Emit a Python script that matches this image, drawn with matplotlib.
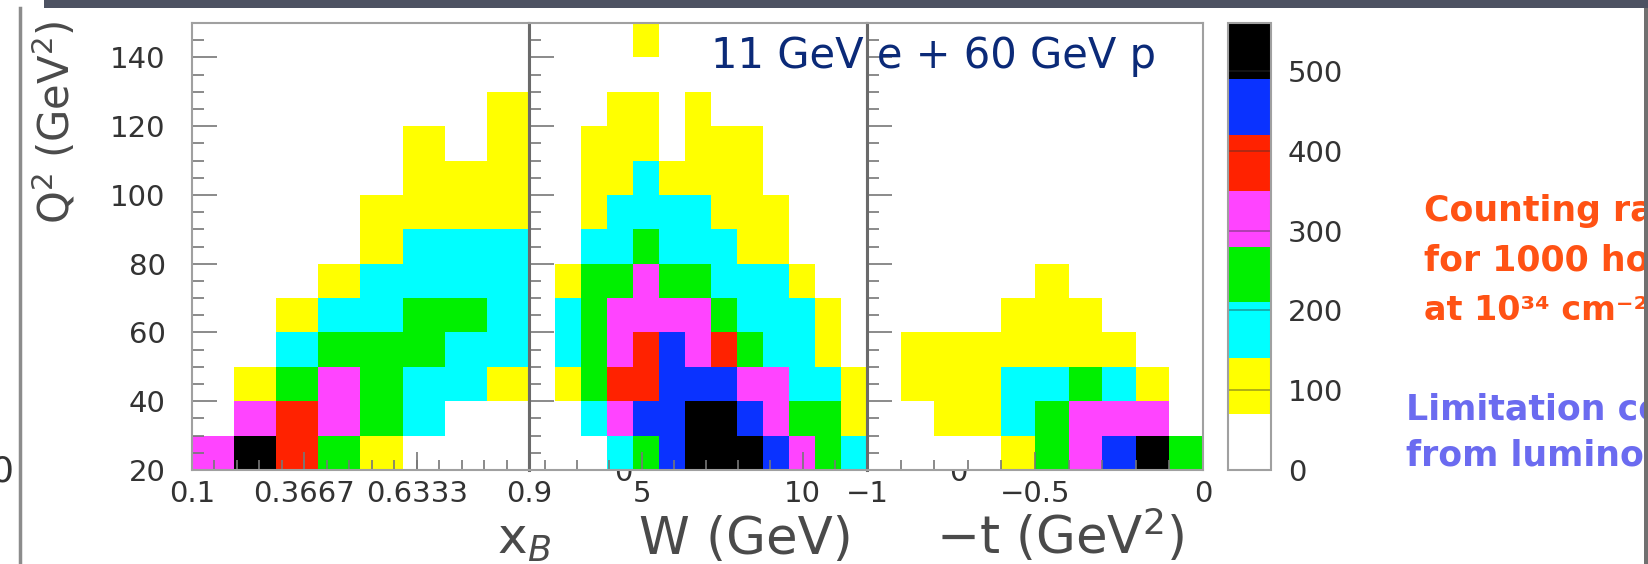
import numpy as np
import matplotlib
matplotlib.use("Agg")
import matplotlib.pyplot as plt
from matplotlib.colors import ListedColormap, BoundaryNorm
from matplotlib.ticker import FixedLocator, MultipleLocator
from matplotlib.patches import Rectangle
from matplotlib.lines import Line2D

W_PX, H_PX = 1649, 564

# bin edges
q2_edges = np.arange(20, 151, 10)
xb_edges = np.linspace(0.1, 0.9, 9)
w_edges = np.linspace(1.5, 12.0, 14)
t_edges = np.linspace(-1.0, 0.0, 11)

# counts per bin, first row = Q2 20-30, last row = Q2 140-150
counts_xb = [
    [310, 520, 380, 240, 100, 0, 0, 0],
    [0, 310, 380, 310, 240, 170, 0, 0],
    [0, 100, 240, 310, 240, 170, 170, 100],
    [0, 0, 170, 240, 240, 240, 170, 170],
    [0, 0, 100, 170, 170, 240, 240, 170],
    [0, 0, 0, 100, 170, 170, 170, 170],
    [0, 0, 0, 0, 100, 170, 170, 170],
    [0, 0, 0, 0, 100, 100, 100, 100],
    [0, 0, 0, 0, 0, 100, 100, 100],
    [0, 0, 0, 0, 0, 100, 0, 100],
    [0, 0, 0, 0, 0, 0, 0, 100],
    [0, 0, 0, 0, 0, 0, 0, 0],
    [0, 0, 0, 0, 0, 0, 0, 0],
]
counts_w = [
    [0, 0, 0, 170, 240, 450, 520, 520, 520, 450, 310, 240, 170],
    [0, 0, 170, 310, 450, 450, 520, 520, 450, 310, 240, 240, 100],
    [0, 100, 240, 380, 380, 450, 450, 450, 310, 310, 170, 170, 100],
    [0, 170, 240, 310, 380, 450, 310, 380, 240, 170, 170, 100, 0],
    [0, 170, 240, 310, 310, 310, 310, 240, 170, 170, 170, 100, 0],
    [0, 100, 240, 240, 310, 240, 240, 170, 170, 170, 100, 0, 0],
    [0, 0, 170, 170, 240, 170, 170, 170, 100, 100, 0, 0, 0],
    [0, 0, 100, 170, 170, 170, 170, 100, 100, 100, 0, 0, 0],
    [0, 0, 100, 100, 170, 100, 100, 100, 100, 0, 0, 0, 0],
    [0, 0, 100, 100, 100, 0, 100, 100, 100, 0, 0, 0, 0],
    [0, 0, 0, 100, 100, 0, 100, 0, 0, 0, 0, 0, 0],
    [0, 0, 0, 0, 0, 0, 0, 0, 0, 0, 0, 0, 0],
    [0, 0, 0, 0, 100, 0, 0, 0, 0, 0, 0, 0, 0],
]
counts_t = [
    [0, 0, 0, 0, 100, 240, 310, 450, 520, 240],
    [0, 0, 100, 100, 170, 240, 310, 310, 310, 0],
    [0, 100, 100, 100, 170, 170, 240, 170, 100, 0],
    [0, 100, 100, 100, 100, 100, 100, 100, 0, 0],
    [0, 0, 0, 0, 100, 100, 100, 0, 0, 0],
    [0, 0, 0, 0, 0, 100, 0, 0, 0, 0],
    [0] * 10, [0] * 10, [0] * 10, [0] * 10, [0] * 10, [0] * 10, [0] * 10,
]

level_colors = ["#ffffff", "#ffff00", "#00ffff", "#00f000",
                "#ff44ff", "#ff2200", "#0a32ff", "#000000"]
level_bounds = np.arange(0, 561, 70)
cbar_ticks = [0, 100, 200, 300, 400, 500]

cmap = ListedColormap(level_colors)
norm = BoundaryNorm(level_bounds, cmap.N)


def box(x0, y0, x1, y1):
    return [x0 / W_PX, 1 - y1 / H_PX, (x1 - x0) / W_PX, (y1 - y0) / H_PX]


def fx(x):
    return x / W_PX


def fy(y):
    return 1 - y / H_PX


fig = plt.figure(figsize=(W_PX / 100, H_PX / 100), dpi=100)
fig.patch.set_facecolor("white")

tick_col = "#333333"
panels = [
    (box(192, 23, 529, 470), xb_edges, counts_xb),
    (box(529, 23, 867, 470), w_edges, counts_w),
    (box(867, 23, 1203, 470), t_edges, counts_t),
]
axes = []
mesh = None
for i, (rect, xe, cnt) in enumerate(panels):
    ax = fig.add_axes(rect)
    z = np.ma.masked_equal(np.array(cnt, dtype=float), 0)
    mesh = ax.pcolormesh(xe, q2_edges, z, cmap=cmap, norm=norm)
    ax.set_xlim(xe[0], xe[-1])
    ax.set_ylim(20, 150)
    ax.yaxis.set_major_locator(FixedLocator(np.arange(20, 141, 20)))
    ax.yaxis.set_minor_locator(MultipleLocator(5))
    ax.tick_params(axis="y", which="major", direction="in", length=18, width=1.2,
                   color="#777777", labelsize=21, labelcolor=tick_col, pad=19)
    ax.tick_params(axis="y", which="minor", direction="in", length=8.5, width=1.2,
                   color="#777777")
    ax.tick_params(axis="x", which="major", direction="in", length=13, width=1.2,
                   color="#777777", labelsize=21, labelcolor=tick_col, pad=7)
    ax.tick_params(axis="x", which="minor", direction="in", length=7, width=1.2,
                   color="#777777")
    if i > 0:
        ax.tick_params(axis="y", labelleft=False)
    for s in ax.spines.values():
        s.set_color("#a0a0a0")
        s.set_linewidth(1.5)
    if i > 0:
        ax.spines["left"].set_color("#6a6a6a")
        ax.spines["left"].set_linewidth(2.2)
    axes.append(ax)

ax1, ax2, ax3 = axes
ax1.xaxis.set_major_locator(FixedLocator([0.1, 0.3667, 0.6333, 0.9]))
ax1.set_xticklabels(["0.1", "0.3667", "0.6333", "0.9"])
ax1.xaxis.set_minor_locator(FixedLocator(np.arange(0.1, 0.9, 0.8 / 15)))
ax2.xaxis.set_major_locator(FixedLocator([5, 10]))
ax2.set_xticklabels(["5", "10"])
ax2.xaxis.set_minor_locator(FixedLocator(np.arange(2, 12, 1)))
ax3.xaxis.set_major_locator(FixedLocator([-1, -0.5, 0]))
ax3.set_xticklabels(["\u22121", "\u22120.5", "0"])
ax3.xaxis.set_minor_locator(FixedLocator(np.arange(-0.9, 0, 0.1)))

# colour scale
cax = fig.add_axes(box(1228, 23, 1271, 470))
cb = fig.colorbar(mesh, cax=cax, ticks=cbar_ticks)
cb.outline.set_edgecolor("#a0a0a0")
cb.outline.set_linewidth(1.5)
cax.tick_params(direction="in", length=31, width=1.2, color=(0.2, 0.2, 0.2, 0.45),
                labelsize=21, labelcolor=tick_col, pad=12)
cax.minorticks_off()

# axis titles
lab_col = "#4a4a4a"
fig.text(fx(55), fy(122), "Q$^2$ (GeV$^2$)", rotation=90, ha="center", va="center",
         fontsize=30, color=lab_col)
fig.text(fx(524), fy(554), "x$_{B}$", ha="center", va="baseline", fontsize=36, color=lab_col)
fig.text(fx(746), fy(554), "W (GeV)", ha="center", va="baseline", fontsize=37, color=lab_col)
fig.text(fx(1060), fy(554), "\u2212t (GeV$^2$)", ha="center", va="baseline", fontsize=37,
         color=lab_col)

# clipped labels behind the frames
for xp in (623, 958):
    fig.text(fx(xp), fy(481), "0", ha="center", va="baseline", fontsize=21,
             color=tick_col, zorder=-1)
fig.text(fx(2), fy(482), "0", ha="center", va="baseline", fontsize=26, color=tick_col)

# beam energies
fig.text(fx(934), fy(68), "11 GeV e + 60 GeV p", ha="center", va="baseline",
         fontsize=30, color="#0b2a78", zorder=5)

# slide text on the right
red = "#ff5214"
fig.text(fx(1424), fy(221), "Counting ra", fontsize=25, weight="bold", color=red)
fig.text(fx(1424), fy(270), "for 1000 ho", fontsize=25, weight="bold", color=red)
fig.text(fx(1424), fy(320), "at 10\u00b3\u2074 cm\u207b\u00b2s", fontsize=24,
         weight="bold", color=red)
blue = "#6b6bf0"
fig.text(fx(1406), fy(419), "Limitation co", fontsize=25, weight="bold", color=blue)
fig.text(fx(1406), fy(466), "from luminos", fontsize=25, weight="bold", color=blue)

# slide frame bits
fig.patches.append(Rectangle((fx(44), fy(8)), 1, 8 / H_PX, transform=fig.transFigure,
                             facecolor="#4d5262", edgecolor="none", zorder=10))
fig.patches.append(Rectangle((fx(1644), 0), 5 / W_PX, fy(8), transform=fig.transFigure,
                             facecolor="#707070", edgecolor="none", zorder=10))
fig.lines.append(Line2D([fx(20), fx(20)], [0, fy(8)], transform=fig.transFigure,
                        color="#8c8c8c", lw=2.5, zorder=10))

fig.savefig("out.png", dpi=100)
